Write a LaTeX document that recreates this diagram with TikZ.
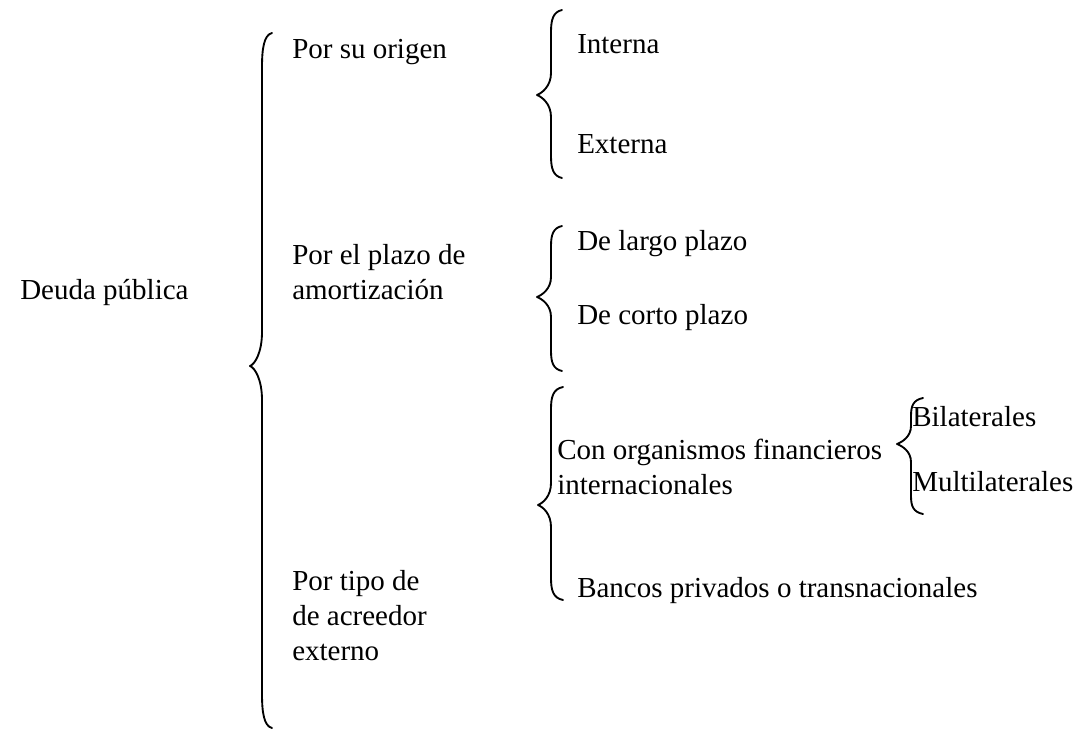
\documentclass[tikz,border=0pt]{standalone}
\usepackage{fontspec}
\setmainfont{Liberation Serif}
\newcommand\wbrace[7]{% xe, xv, xt, ytop, ytip, ybot, curl
  \draw[bracestyle] (#1,#4) .. controls ({#2+2},{#4+2}) and (#2,{#4+#7*0.45}) .. (#2,{#4+#7})
    -- (#2,{#5-#7}) .. controls (#2,{#5-#7*0.4}) and ({#3+5},{#5-2}) .. (#3,#5)
    .. controls ({#3+5},{#5+2}) and (#2,{#5+#7*0.4}) .. (#2,{#5+#7})
    -- (#2,{#6-#7}) .. controls (#2,{#6-#7*0.45}) and ({#2+2},{#6-2}) .. (#1,#6);}
\begin{document}
\begin{tikzpicture}[x=0.75pt,y=-0.75pt,
  lbl/.style={anchor=base west,inner sep=0pt,font=\fontsize{21.75}{26.5}\selectfont},
  bracestyle/.style={line width=1.4pt,line cap=round,line join=round}]
\useasboundingbox[fill=white] (0,0) rectangle (1080,730);
% braces
\wbrace{272}{262}{250}{33}{366}{728}{34}
\wbrace{562}{551}{537}{10}{95}{178}{22}
\wbrace{562}{551}{537}{226}{297}{371}{20}
\wbrace{563}{551}{538}{387}{505}{600}{22}
\wbrace{923}{911}{897}{398}{444}{514}{18}
% labels
\node[lbl] (deuda) at (20,300) {Deuda pública};
\node[lbl] (origen) at (292,59) {Por su origen};
\node[lbl] (plazo1) at (292,265) {Por el plazo de};
\node[lbl] (plazo2) at (292,300) {amortización};
\node[lbl] (tipo1) at (292,590) {Por tipo de};
\node[lbl] (tipo2) at (292,625) {de acreedor};
\node[lbl] (tipo3) at (292,660) {externo};
\node[lbl] (interna) at (577,54) {Interna};
\node[lbl] (externa) at (577,154) {Externa};
\node[lbl] (largo) at (577,251) {De largo plazo};
\node[lbl] (corto) at (577,325) {De corto plazo};
\node[lbl] (org1) at (557,459) {Con organismos financieros};
\node[lbl] (org2) at (557,494) {internacionales};
\node[lbl] (bancos) at (577,597) {Bancos privados o transnacionales};
\node[lbl] (bil) at (912,426) {Bilaterales};
\node[lbl] (mul) at (912,491) {Multilaterales};
\end{tikzpicture}
\end{document}
